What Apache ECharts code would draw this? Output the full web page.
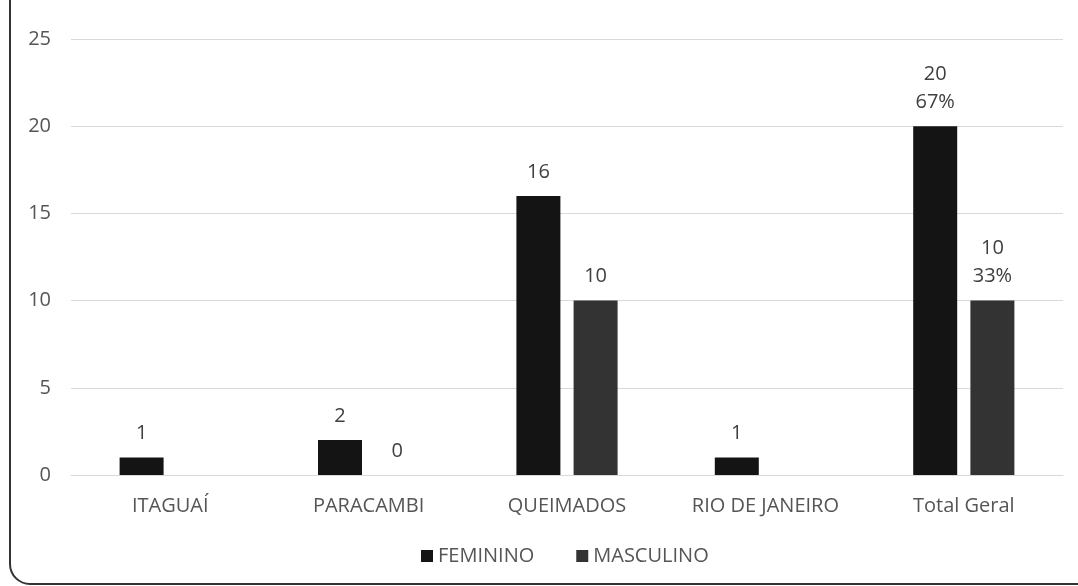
<!DOCTYPE html>
<html>
<head>
<meta charset="utf-8">
<script src="https://cdn.jsdelivr.net/npm/echarts@6/dist/echarts.min.js"></script>
<style>html,body{margin:0;padding:0;background:#fff;}#chart{width:1078px;height:586px;}</style>
</head>
<body>
<div id="chart"></div>
<script>
const categories = ['ITAGUAÍ', 'PARACAMBI', 'QUEIMADOS', 'RIO DE JANEIRO', 'Total Geral'];
const feminino = [1, 2, 16, 1, 20];
const masculino = [null, 0, 10, null, 10];
const femininoPct = [null, null, null, null, '67%'];
const masculinoPct = [null, null, null, null, '33%'];
const yTicks = { min: 0, max: 25, interval: 5 };

const chart = echarts.init(document.getElementById('chart'), null, { renderer: 'canvas' });
const font = 'Open Sans, Liberation Sans, sans-serif';
function fmt(pcts) {
  return p => (pcts[p.dataIndex] ? p.value + '\n' + pcts[p.dataIndex] : String(p.value));
}
chart.setOption({
  animation: false,
  backgroundColor: '#ffffff',
  textStyle: { fontFamily: font },
  grid: { left: 71, right: 15, top: 39, bottom: 111 },
  legend: {
    bottom: 15, left: 416,
    itemWidth: 12, itemHeight: 12, itemGap: 42,
    icon: 'rect',
    textStyle: { color: '#555555', fontSize: 20, fontFamily: font },
    data: ['FEMININO', 'MASCULINO']
  },
  xAxis: {
    type: 'category', data: categories,
    axisLine: { lineStyle: { color: '#d9d9d9', width: 1 } },
    axisTick: { show: false },
    axisLabel: { color: '#555555', fontSize: 20, margin: 21, fontFamily: font }
  },
  yAxis: {
    type: 'value', min: yTicks.min, max: yTicks.max, interval: yTicks.interval,
    axisLine: { show: false }, axisTick: { show: false },
    splitLine: { lineStyle: { color: '#d9d9d9', width: 1 } },
    axisLabel: { color: '#555555', fontSize: 20, margin: 20, fontFamily: font }
  },
  series: [
    {
      name: 'FEMININO', type: 'bar', data: feminino,
      barWidth: 44, barGap: '30%',
      itemStyle: { color: '#141414' },
      label: { show: true, position: 'top', distance: 10, color: '#404040', fontSize: 20, lineHeight: 28, fontFamily: font, formatter: fmt(femininoPct) }
    },
    {
      name: 'MASCULINO', type: 'bar', data: masculino,
      barWidth: 44,
      itemStyle: { color: '#333333' },
      label: { show: true, position: 'top', distance: 10, color: '#404040', fontSize: 20, lineHeight: 28, fontFamily: font, formatter: fmt(masculinoPct) }
    }
  ],
  graphic: [{
    type: 'rect', silent: true,
    shape: { x: 10, y: -30, width: 2000, height: 614, r: 20 },
    style: { fill: 'none', stroke: '#333333', lineWidth: 2 }
  }]
});
</script>
</body>
</html>
